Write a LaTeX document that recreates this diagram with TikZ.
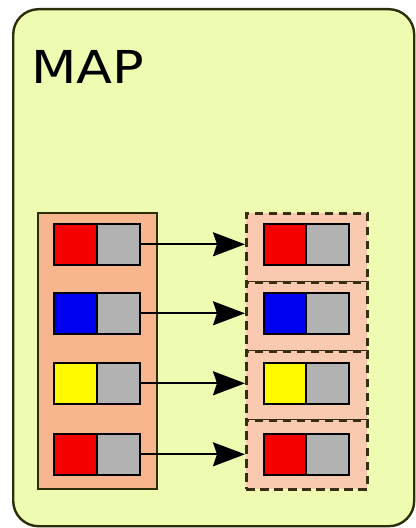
\documentclass[tikz,border=0pt]{standalone}
\usepackage{fontspec}
\setmainfont{DejaVu Sans}
\usetikzlibrary{arrows.meta}
\definecolor{bgfill}{RGB}{237,252,176}
\definecolor{framecol}{RGB}{45,45,10}
\definecolor{srcfill}{RGB}{247,182,142}
\definecolor{dstfill}{RGB}{249,202,176}
\definecolor{dashcol}{RGB}{55,45,20}
\definecolor{cred}{RGB}{245,0,0}
\definecolor{cblue}{RGB}{0,0,240}
\definecolor{cyellow}{RGB}{255,250,0}
\definecolor{cgray}{RGB}{178,178,178}
\begin{document}
\begin{tikzpicture}[x=0.75pt,y=-0.75pt,
  framebox/.style={draw=framecol, line width=1.8pt, fill=bgfill, rounded corners=19pt,
    minimum width=300.75pt, minimum height=387.75pt, inner sep=0pt, anchor=north west},
  srcbox/.style={draw=framecol, line width=1.5pt, fill=srcfill,
    minimum width=89.25pt, minimum height=207pt, inner sep=0pt, anchor=north west},
  dstbox/.style={draw=dashcol, line width=2.2pt, dash pattern=on 6.5pt off 4pt, fill=dstfill,
    minimum width=90.75pt, minimum height=51.75pt, inner sep=0pt, anchor=north west},
  cellbox/.style={draw=black, line width=1.2pt, minimum width=32.25pt, minimum height=30.75pt,
    inner sep=0pt, anchor=north west},
  link/.style={draw=black, line width=1.5pt, -{Stealth[length=24pt, width=18pt, inset=3pt]}},
  title/.style={font=\fontsize{34}{40}\selectfont, anchor=base west, inner sep=0pt, xscale=1.16}]
\useasboundingbox (0,0) rectangle (416,528);
\node[framebox] (frame) at (12,8) {};
\node[title] (map) at (31,84) {MAP};
\node[srcbox] (src) at (37,212) {};
% destination boxes
\foreach \i in {1,2,3,4} {
  \node[dstbox] (d\i) at (245,{212+69*(\i-1)}) {};
}
% cells
\foreach \i/\c/\y in {1/cred/223, 2/cblue/292, 3/cyellow/362, 4/cred/433} {
  \node[cellbox, fill=\c] (lc\i) at (53,\y) {};
  \node[cellbox, fill=cgray] (lg\i) at (96,\y) {};
  \node[cellbox, fill=\c] (rc\i) at (263,\y) {};
  \node[cellbox, fill=cgray] (rg\i) at (305,\y) {};
  \draw[link] (lg\i.east) -- (lg\i.east -| d\i.west);
}
\end{tikzpicture}
\end{document}
